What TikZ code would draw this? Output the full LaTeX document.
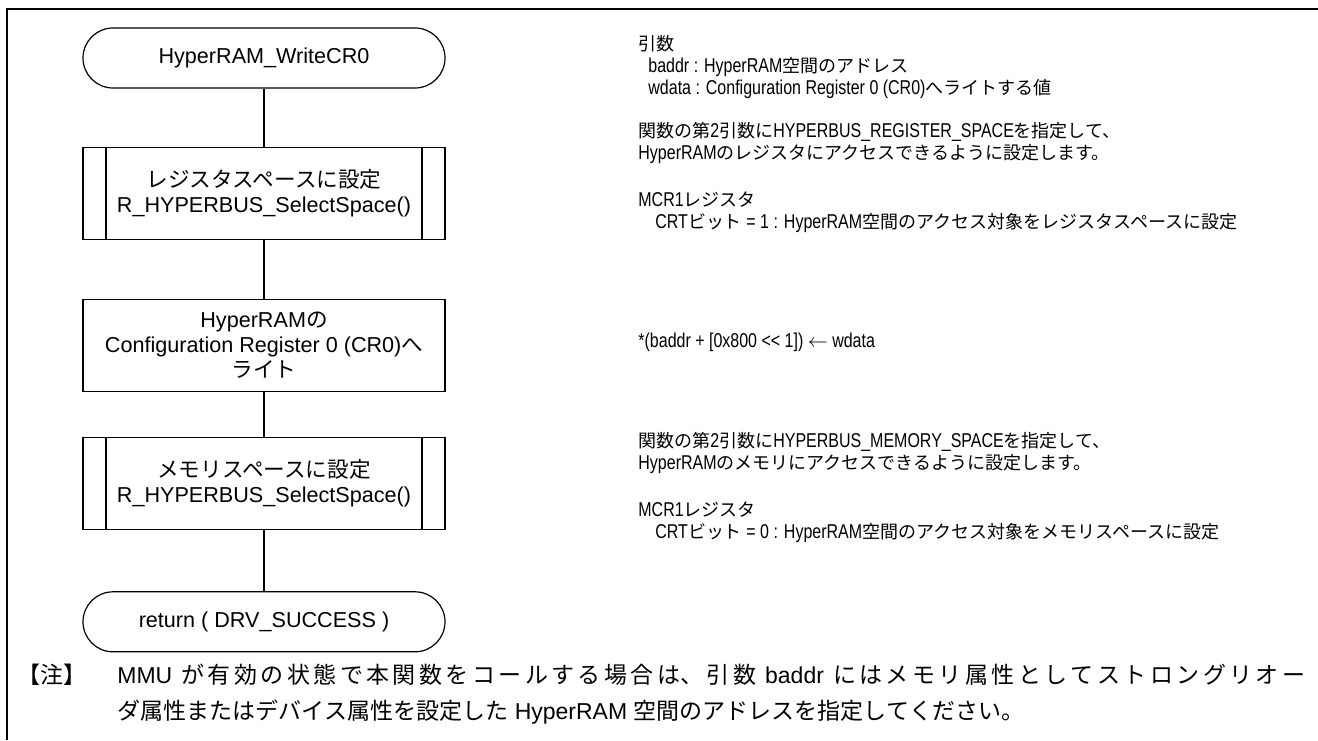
\documentclass[tikz,border=0pt]{standalone}
\usepackage{fontspec}
\setmainfont{Liberation Sans}
\newfontfamily\jpfont{Noto Sans CJK JP}
\newfontfamily\jpsmall[Scale=0.9]{Noto Sans CJK JP}
\newfontfamily\narrowfont[FakeStretch=0.8]{Liberation Sans}
\let\jpcur\jpfont
\newcommand{\ja}[1]{{\jpcur #1}}
\newcommand{\jabreak}{\XeTeXlinebreaklocale "ja"\relax\XeTeXlinebreakskip=0pt plus 2pt\relax}
\usetikzlibrary{positioning}

\begin{document}
\begin{tikzpicture}[
            x=0.5pt, y=-0.5pt,
            node distance=29pt,
            process/.style={rectangle, minimum width=181pt, minimum height=46pt, align=center, draw, line width=0.6pt, font=\fontsize{10.8}{12.5}\selectfont},
            terminal/.style={process, minimum height=30pt, rounded corners=15pt},
            subproc/.style={process, path picture={
                \draw [line width=0.6pt] ([xshift=11.5pt]path picture bounding box.north west) -- ([xshift=11.5pt]path picture bounding box.south west);
                \draw [line width=0.6pt] ([xshift=-11.5pt]path picture bounding box.north east) -- ([xshift=-11.5pt]path picture bounding box.south east);}},
            remark/.style={anchor=north west, inner sep=0pt, align=left, font=\fontsize{10}{11}\selectfont\narrowfont\let\jpcur\jpsmall},
            note/.style={anchor=north west, inner sep=0pt, font=\fontsize{11.5}{18}\selectfont},
            link/.style={line width=0.6pt}
            ]
            \useasboundingbox (0,0) rectangle (1318,740);
            \draw [line width=1.2pt] (1318,9) -- (7,9) -- (7,740);

            \node (start) [terminal] at (264,58) {HyperRAM\_WriteCR0};
            \node (regspace) [subproc, below=of start] {\ja{レジスタスペースに設定}\\R\_HYPERBUS\_SelectSpace()};
            \node (writecr) [process, below=29.5pt of regspace] {HyperRAM\ja{の}\\Configuration Register 0 (CR0)\ja{へ}\\\ja{ライト}};
            \node (memspace) [subproc, below=22.5pt of writecr] {\ja{メモリスペースに設定}\\R\_HYPERBUS\_SelectSpace()};
            \node (ret) [terminal, below=30.5pt of memspace] {return ( DRV\_SUCCESS )};

            \draw [link] (start) -- (regspace);
            \draw [link] (regspace) -- (writecr);
            \draw [link] (writecr) -- (memspace);
            \draw [link] (memspace) -- (ret);

            \node (args) [remark] at (638,35) {\ja{引数}\\\hspace*{5pt}baddr : HyperRAM\ja{空間のアドレス}\\\hspace*{5pt}wdata : Configuration Register 0 (CR0)\ja{へライトする値}};
            \node (regnote) [remark] at (638,122) {\ja{関数の第}2\ja{引数に}HYPERBUS\_REGISTER\_SPACE\ja{を指定して、}\\HyperRAM\ja{のレジスタにアクセスできるように設定します。}};
            \node (mcrreg) [remark] at (638,191) {MCR1\ja{レジスタ}\\\hspace*{8.5pt}CRT\ja{ビット} = 1 : HyperRAM\ja{空間のアクセス対象をレジスタスペースに設定}};
            \node (wrnote) [remark] at (638,333) {*(baddr + [0x800 << 1]) $\leftarrow$ wdata};
            \node (memnote) [remark] at (638,432) {\ja{関数の第}2\ja{引数に}HYPERBUS\_MEMORY\_SPACE\ja{を指定して、}\\HyperRAM\ja{のメモリにアクセスできるように設定します。}};
            \node (mcrmem) [remark] at (638,501) {MCR1\ja{レジスタ}\\\hspace*{8.5pt}CRT\ja{ビット} = 0 : HyperRAM\ja{空間のアクセス対象をメモリスペースに設定}};

            \node (notelbl) [note] at (17,664) {\ja{【注】}};
            \node (notetxt) [note, text width=594pt, align=justify] at (117,664) {\jabreak MMU \ja{が有効の状態で本関数をコールする場合は、引数} baddr \ja{にはメモリ属性としてストロングリオー}\linebreak\ja{ダ属性またはデバイス属性を設定した} HyperRAM \ja{空間のアドレスを指定してください。}};
        \end{tikzpicture}
\end{document}
